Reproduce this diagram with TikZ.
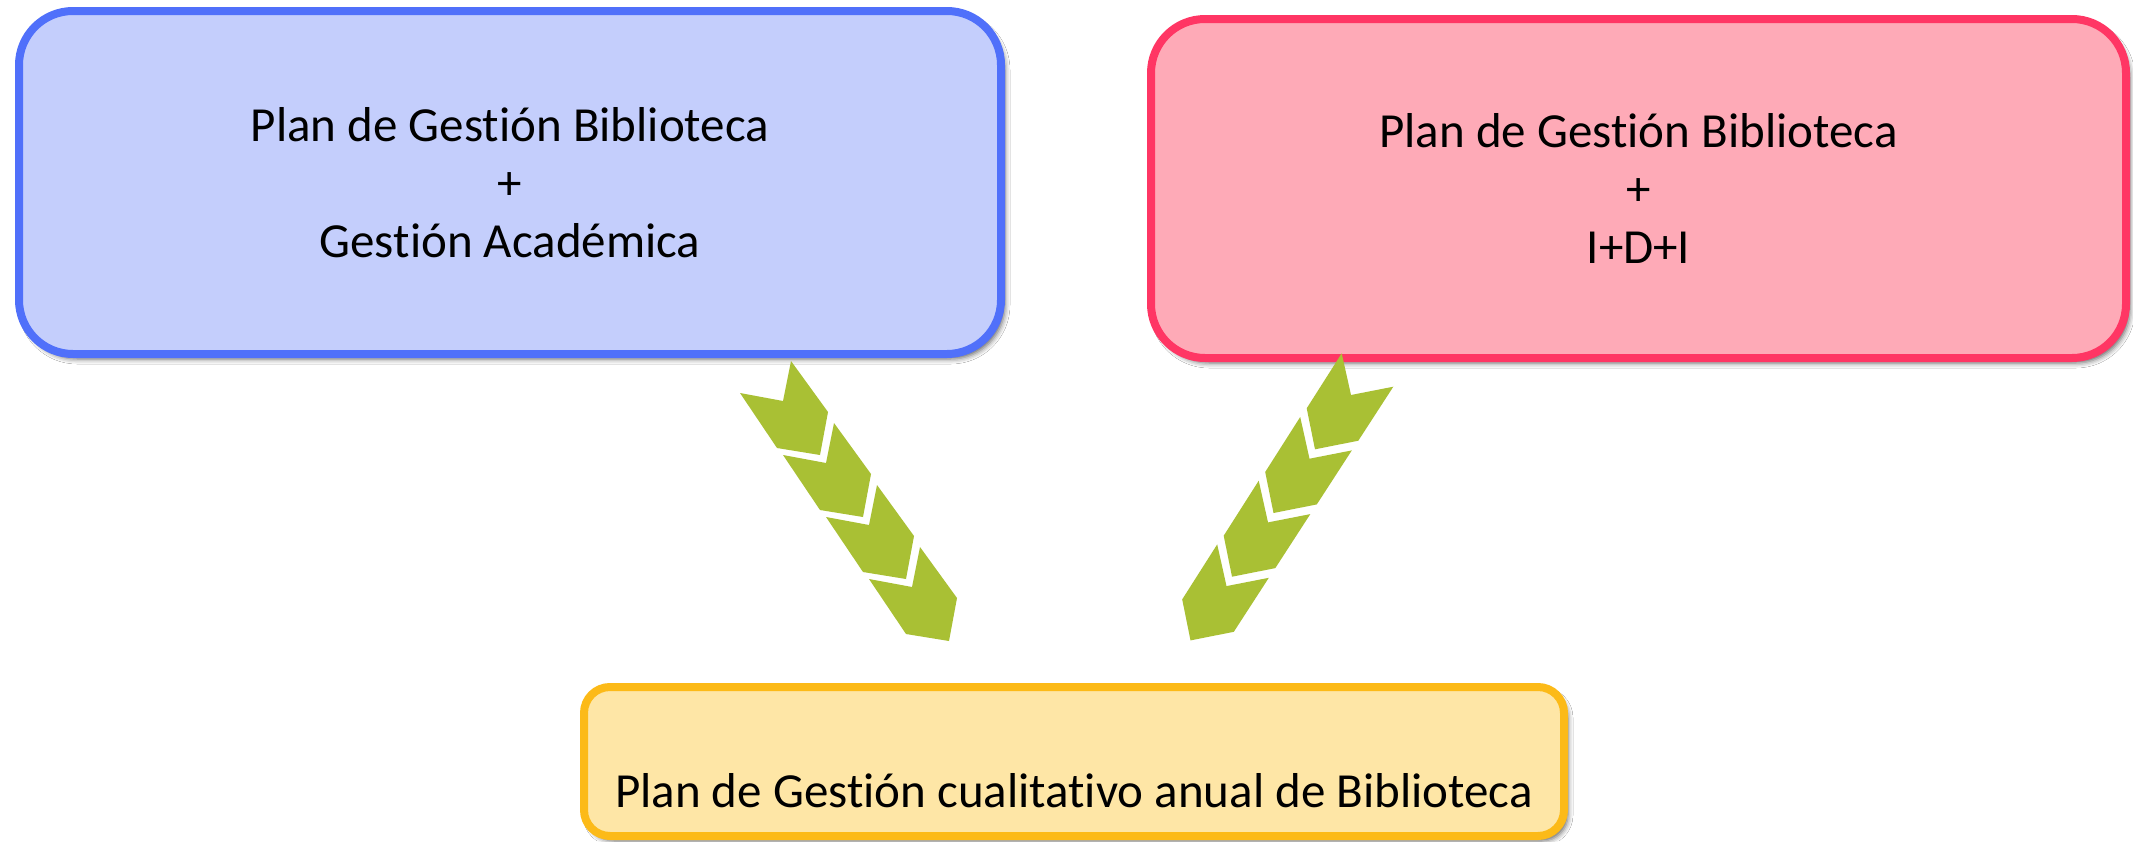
\documentclass[tikz,border=0pt]{standalone}
\usepackage{fontspec}
\setmainfont{Carlito}[Ligatures=NoCommon]
\usetikzlibrary{shadows.blur}
\definecolor{blueFill}{RGB}{196,206,252}
\definecolor{blueLine}{RGB}{80,112,250}
\definecolor{redFill}{RGB}{254,170,183}
\definecolor{redLine}{RGB}{255,54,100}
\definecolor{yelFill}{RGB}{254,230,166}
\definecolor{yelLine}{RGB}{252,186,24}
\definecolor{arrowGreen}{RGB}{169,192,52}
\tikzset{
  softshadow/.style={blur shadow={shadow xshift=4pt, shadow yshift=-5pt,
    shadow blur radius=5pt, shadow opacity=60}},
  bigbox/.style={draw, line width=8pt, rounded corners=54pt, inner sep=0pt,
    align=center, font=\fontsize{49}{58}\selectfont, softshadow},
  smallbox/.style={draw, line width=8pt, rounded corners=26pt, inner sep=0pt, softshadow},
  boxtext/.style={inner sep=0pt, font=\fontsize{49}{58}\selectfont},
  chevron/.style={fill=arrowGreen, draw=none}
}
\begin{document}
\begin{tikzpicture}[x=1pt, y=-1pt]
\useasboundingbox[fill=white] (0,0) rectangle (2133,841);
\node[bigbox, fill=blueFill, draw=blueLine, minimum width=982pt, minimum height=343pt]
  (acad) at (510,182.5) {Plan de Gestión Biblioteca\\+\\Gestión Académica};
\node[bigbox, fill=redFill, draw=redLine, minimum width=975pt, minimum height=339pt]
  (idi) at (1638.5,188.5) {Plan de Gestión Biblioteca\\+\\I+D+I};
\node[smallbox, fill=yelFill, draw=yelLine, minimum width=980pt, minimum height=149pt]
  (anual) at (1074,761.5) {};
\node[boxtext, anchor=base] (anualtext) at (1074,807) {Plan de Gestión cualitativo anual de Biblioteca};
% left chevron arrow
\foreach \i in {0,...,3}{
  \fill[chevron, shift={(43*\i,62*\i)}]
    (791,361) -- (828,412) -- (820,455) -- (777,448) -- (740,393) -- (783,401) -- cycle;
}
% right chevron arrow
\foreach \i in {0,...,3}{
  \fill[chevron, shift={(-41.5*\i,63.7*\i)}]
    (1341.7,353.3) -- (1351,395) -- (1393.3,386.7) -- (1358.3,440.7) -- (1315,449.3) -- (1306.7,408.3) -- cycle;
}
\end{tikzpicture}
\end{document}
